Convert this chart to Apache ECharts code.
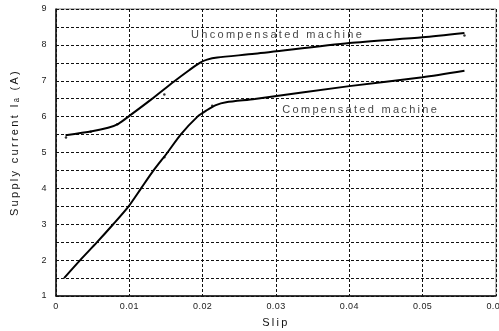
<!DOCTYPE html>
<html>
<head>
<meta charset="utf-8">
<script src="https://cdn.jsdelivr.net/npm/echarts@6/dist/echarts.min.js"></script>
<style>
  html, body { margin: 0; padding: 0; background: #fff; }
  #chart { width: 499px; height: 331px; }
</style>
</head>
<body>
<div id="chart"></div>
<script>
// Supply current against slip, with and without compensation
const uncompSlip = [0.0013, 0.0049, 0.0071, 0.0085, 0.0100, 0.0130, 0.0161, 0.0182, 0.0196, 0.0206, 0.0220, 0.0271, 0.0400, 0.0500, 0.0557];
const uncompCurrent = [5.48, 5.59, 5.69, 5.80, 6.02, 6.48, 6.98, 7.30, 7.50, 7.59, 7.65, 7.75, 8.05, 8.21, 8.33];

const compSlip = [0.0011, 0.0033, 0.0056, 0.0078, 0.0099, 0.0116, 0.0133, 0.0152, 0.0170, 0.0193, 0.0205, 0.0218, 0.0232, 0.0271, 0.0400, 0.0500, 0.0557];
const compCurrent = [1.50, 2.00, 2.50, 3.00, 3.50, 4.00, 4.50, 5.00, 5.50, 6.00, 6.17, 6.32, 6.40, 6.49, 6.85, 7.10, 7.28];

// measured points marked along the curves
const uncompPointSlip = [0.00136, 0.00473, 0.00836, 0.01477, 0.0557];
const uncompPointCurrent = [5.42, 5.58, 5.79, 6.62, 8.26];
const compPointSlip = [0.01477, 0.0213];
const compPointCurrent = [4.87, 6.30];

// curve captions, left-anchored in data coordinates
const captionText = ['Uhcompensated machine', 'Compensated machine'];
const captionSlip = [0.01841, 0.03086];
const captionCurrent = [8.29, 6.19];

const xTicks = [0, 0.01, 0.02, 0.03, 0.04, 0.05, 0.06];
const yTicks = [1, 2, 3, 4, 5, 6, 7, 8, 9];

const pairs = (xs, ys) => xs.map((x, i) => [x, ys[i]]);

// wide tracking on the chart text: larger titles get more spacing than tick labels
(function () {
  const proto = CanvasRenderingContext2D.prototype;
  const fill = proto.fillText, measure = proto.measureText;
  const spacing = (font) => {
    const m = /(\d+(?:\.\d+)?)px/.exec(font || '');
    const px = m ? parseFloat(m[1]) : 12;
    return px >= 10.5 ? '2.3px' : '0.4px';
  };
  proto.fillText = function (t, x, y, w) {
    if ('letterSpacing' in this) this.letterSpacing = spacing(this.font);
    return w === undefined ? fill.call(this, t, x, y) : fill.call(this, t, x, y, w);
  };
  proto.measureText = function (t) {
    if ('letterSpacing' in this) this.letterSpacing = spacing(this.font);
    return measure.call(this, t);
  };
})();

const FONT = '"Liberation Sans", Arial, sans-serif';
const gridLine = { show: true, lineStyle: { color: '#111', width: 1, type: [3, 2] } };

const chart = echarts.init(document.getElementById('chart'), null, { renderer: 'canvas' });
chart.setOption({
  animation: false,
  backgroundColor: '#fff',
  grid: {
    left: 56, right: 3, top: 9, bottom: 35, show: true, borderColor: '#777', borderWidth: 1,
    containLabel: false, outerBoundsMode: 'none'
  },
  xAxis: {
    type: 'value', min: xTicks[0], max: xTicks[xTicks.length - 1], interval: 0.01,
    name: 'Slip', nameLocation: 'middle', nameGap: 20,
    nameTextStyle: { fontFamily: FONT, fontSize: 11, color: '#111' },
    axisLine: { show: true, lineStyle: { color: '#111', width: 1.5 } },
    axisTick: { show: false },
    axisLabel: {
      fontFamily: FONT, fontSize: 9, color: '#222', margin: 6, showMaxLabel: true, showMinLabel: true,
      alignMaxLabel: 'center', hideOverlap: false,
      formatter: (v) => (v === 0 ? '0' : v.toFixed(2))
    },
    splitLine: gridLine
  },
  yAxis: {
    type: 'value', min: yTicks[0], max: yTicks[yTicks.length - 1], interval: 0.5,
    name: 'Supply current I\u2090 (A)', nameLocation: 'middle', nameGap: 34, nameRotate: 90,
    nameTextStyle: { fontFamily: FONT, fontSize: 11, color: '#111', padding: [0, 0, 0, 20] },
    axisLine: { show: true, lineStyle: { color: '#111', width: 1.5 } },
    axisTick: { show: false },
    axisLabel: {
      fontFamily: FONT, fontSize: 9, color: '#222', margin: 9,
      formatter: (v) => (yTicks.includes(v) ? String(v) : '')
    },
    splitLine: gridLine
  },
  series: [
    {
      name: 'Uncompensated machine', type: 'line', data: pairs(uncompSlip, uncompCurrent),
      smooth: 0.25, showSymbol: false,
      lineStyle: { color: '#000', width: 2 }
    },
    {
      name: 'Compensated machine', type: 'line', data: pairs(compSlip, compCurrent),
      smooth: 0.25, showSymbol: false,
      lineStyle: { color: '#000', width: 2 }
    },
    {
      type: 'scatter', data: pairs(uncompPointSlip, uncompPointCurrent).concat(pairs(compPointSlip, compPointCurrent)),
      symbol: 'circle', symbolSize: 2.5, itemStyle: { color: '#000' }, silent: true
    },
    {
      type: 'scatter', silent: true, symbolSize: 1,
      itemStyle: { color: 'rgba(0,0,0,0)' },
      data: captionText.map((t, i) => ({ name: t, value: [captionSlip[i], captionCurrent[i]] })),
      label: {
        show: true, position: 'inside', formatter: (p) => p.name,
        fontFamily: FONT, fontSize: 11, color: '#111', align: 'left', verticalAlign: 'middle'
      }
    }
  ]
});
</script>
</body>
</html>
